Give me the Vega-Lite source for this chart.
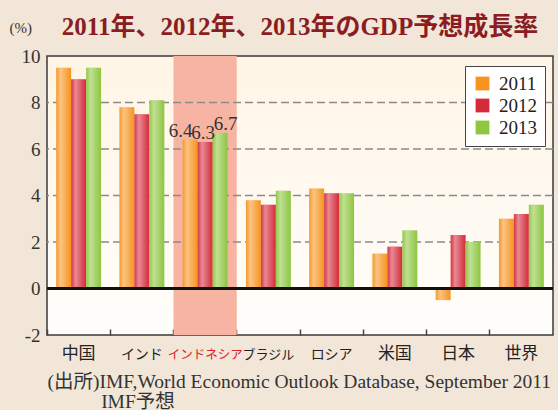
{
  "$schema": "https://vega.github.io/schema/vega-lite/v6.json",
  "autosize": {"type": "none"},
  "width": 506,
  "height": 279,
  "padding": {"left": 47, "top": 56, "right": 5, "bottom": 75},
  "background": "#F2E6D8",
  "title": {
    "text": "2011年、2012年、2013年のGDP予想成長率",
    "font": "Liberation Serif, Noto Sans CJK JP",
    "fontSize": 25,
    "fontWeight": "bold",
    "color": "#8B1C22",
    "anchor": "middle",
    "frame": "group",
    "offset": -20
  },
  "config": {
    "view": {
      "fill": {"gradient": "linear", "x1": 0, "y1": 0, "x2": 0, "y2": 1, "stops": [{"offset": 0, "color": "#FFF5E6"}, {"offset": 1, "color": "#FFFEFB"}]},
      "stroke": "#3a3a3a",
      "strokeWidth": 1.5
    }
  },
  "resolve": {"scale": {"xOffset": "independent"}},
  "data": {
    "values": [
      {"country": "中国", "year": "2011", "value": 9.5},
      {"country": "中国", "year": "2012", "value": 9.0},
      {"country": "中国", "year": "2013", "value": 9.5},
      {"country": "インド", "year": "2011", "value": 7.8},
      {"country": "インド", "year": "2012", "value": 7.5},
      {"country": "インド", "year": "2013", "value": 8.1},
      {"country": "インドネシア", "year": "2011", "value": 6.4},
      {"country": "インドネシア", "year": "2012", "value": 6.3},
      {"country": "インドネシア", "year": "2013", "value": 6.7},
      {"country": "ブラジル", "year": "2011", "value": 3.8},
      {"country": "ブラジル", "year": "2012", "value": 3.6},
      {"country": "ブラジル", "year": "2013", "value": 4.2},
      {"country": "ロシア", "year": "2011", "value": 4.3},
      {"country": "ロシア", "year": "2012", "value": 4.1},
      {"country": "ロシア", "year": "2013", "value": 4.1},
      {"country": "米国", "year": "2011", "value": 1.5},
      {"country": "米国", "year": "2012", "value": 1.8},
      {"country": "米国", "year": "2013", "value": 2.5},
      {"country": "日本", "year": "2011", "value": -0.5},
      {"country": "日本", "year": "2012", "value": 2.3},
      {"country": "日本", "year": "2013", "value": 2.0},
      {"country": "世界", "year": "2011", "value": 3.0},
      {"country": "世界", "year": "2012", "value": 3.2},
      {"country": "世界", "year": "2013", "value": 3.6}
    ]
  },
  "encoding": {
    "x": {
      "field": "country",
      "type": "nominal",
      "sort": ["中国", "インド", "インドネシア", "ブラジル", "ロシア", "米国", "日本", "世界"],
      "scale": {"domain": ["中国", "インド", "インドネシア", "ブラジル", "ロシア", "米国", "日本", "世界"], "paddingInner": 0.29, "paddingOuter": 0.145},
      "axis": {
        "bandPosition": -0.2028,
        "labelAngle": 0,
        "labelFont": "Noto Sans CJK JP",
        "labelFontSize": {"expr": "datum.value === 'インドネシア' ? 12.5 : datum.value === 'ブラジル' ? 13 : test(/[ァ-ヶ]/, datum.value) ? 14 : 17"},
        "labelColor": {"condition": {"test": "datum.value === 'インドネシア'", "value": "#E0202A"}, "value": "#222222"},
        "labelPadding": 29,
        "labelBaseline": "alphabetic",
        "labelOverlap": false,
        "tickSize": -6,
        "tickColor": "#444444",
        "tickWidth": 1.5,
        "domain": false,
        "grid": false,
        "title": ["(出所)IMF,World Economic Outlook Database, September 2011", "\u200b\u3000\u3000\u00a0\u00a0\u00a0IMF予想"],
        "titleFont": "Liberation Serif, Noto Sans CJK JP",
        "titleFontSize": 19.5,
        "titleFontWeight": "normal",
        "titleColor": "#333333",
        "titleAlign": "left",
        "titleAnchor": "start",
        "titleBaseline": "alphabetic",
        "titleX": 0,
        "titleY": 52,
        "titleLineHeight": 20
      }
    }
  },
  "layer": [
    {
      "transform": [{"filter": "datum.country === 'インドネシア' && datum.year === '2011'"}],
      "mark": {"type": "bar", "color": "#F8B4A2", "width": {"band": 1.4085}},
      "encoding": {
        "y": {"datum": 10, "type": "quantitative"},
        "y2": {"datum": -2}
      }
    },
    {
      "data": {"values": [{"g": 2}, {"g": 4}, {"g": 6}, {"g": 8}]},
      "mark": {"type": "rule", "color": "#8a8a8a", "strokeWidth": 1.5, "strokeDash": [8, 4]},
      "encoding": {
        "x": null,
        "y": {"field": "g", "type": "quantitative"}
      }
    },
    {
      "mark": {"type": "bar"},
      "encoding": {
        "xOffset": {"field": "year", "type": "nominal", "scale": {"paddingInner": 0, "paddingOuter": 0}},
        "y": {
          "field": "value",
          "type": "quantitative",
          "scale": {"domain": [-2, 10], "nice": false},
          "axis": {
            "values": [-2, 0, 2, 4, 6, 8, 10],
            "labelExpr": "replace(datum.label, '\u2212', '-')",
            "grid": false,
            "domain": false,
            "ticks": false,
            "labelFont": "Liberation Serif",
            "labelFontSize": 19,
            "labelColor": "#333333",
            "labelPadding": 7,
            "title": "(%)",
            "titleAngle": 0,
            "titleFont": "Liberation Serif",
            "titleFontSize": 15,
            "titleFontWeight": "normal",
            "titleColor": "#333333",
            "titleAlign": "left",
            "titleBaseline": "alphabetic",
            "titleX": -38,
            "titleY": -24
          }
        },
        "color": {
          "field": "year",
          "type": "nominal",
          "scale": {"domain": ["2011", "2012", "2013"], "range": ["#F7931E", "#D42A3A", "#8DC63F"]},
          "legend": {
            "title": null,
            "orient": "none",
            "legendX": 418,
            "legendY": 10,
            "fillColor": "#FFFFFF",
            "strokeColor": "#444444",
            "padding": 8,
            "symbolType": "square",
            "symbolSize": 190,
            "symbolStrokeWidth": 0,
            "labelFont": "Liberation Serif",
            "labelFontSize": 19,
            "labelColor": "#222222",
            "rowPadding": 2,
            "labelOffset": 7
          }
        }
      }
    },
    {
      "mark": {
        "type": "bar",
        "color": {"gradient": "linear", "x1": 0, "y1": 0, "x2": 1, "y2": 0, "stops": [{"offset": 0, "color": "rgba(255,255,255,0.05)"}, {"offset": 0.3, "color": "rgba(255,255,255,0.45)"}, {"offset": 1, "color": "rgba(255,255,255,0)"}]}
      },
      "encoding": {
        "xOffset": {"field": "year", "type": "nominal", "scale": {"paddingInner": 0, "paddingOuter": 0}},
        "y": {"field": "value", "type": "quantitative"}
      }
    },
    {
      "mark": {"type": "rule", "color": "#111111", "strokeWidth": 1.5},
      "encoding": {"x": null, "y": {"datum": 0}}
    },
    {
      "transform": [{"filter": "datum.country === 'インドネシア'"}],
      "mark": {"type": "text", "font": "Liberation Serif", "fontSize": 19, "color": "#333333", "baseline": "alphabetic", "dy": -3, "dx": -2},
      "encoding": {
        "xOffset": {"field": "year", "type": "nominal", "scale": {"paddingInner": 0, "paddingOuter": -0.52}},
        "y": {"field": "value", "type": "quantitative"},
        "text": {"field": "value", "type": "quantitative", "format": ".1f"}
      }
    }
  ]
}
